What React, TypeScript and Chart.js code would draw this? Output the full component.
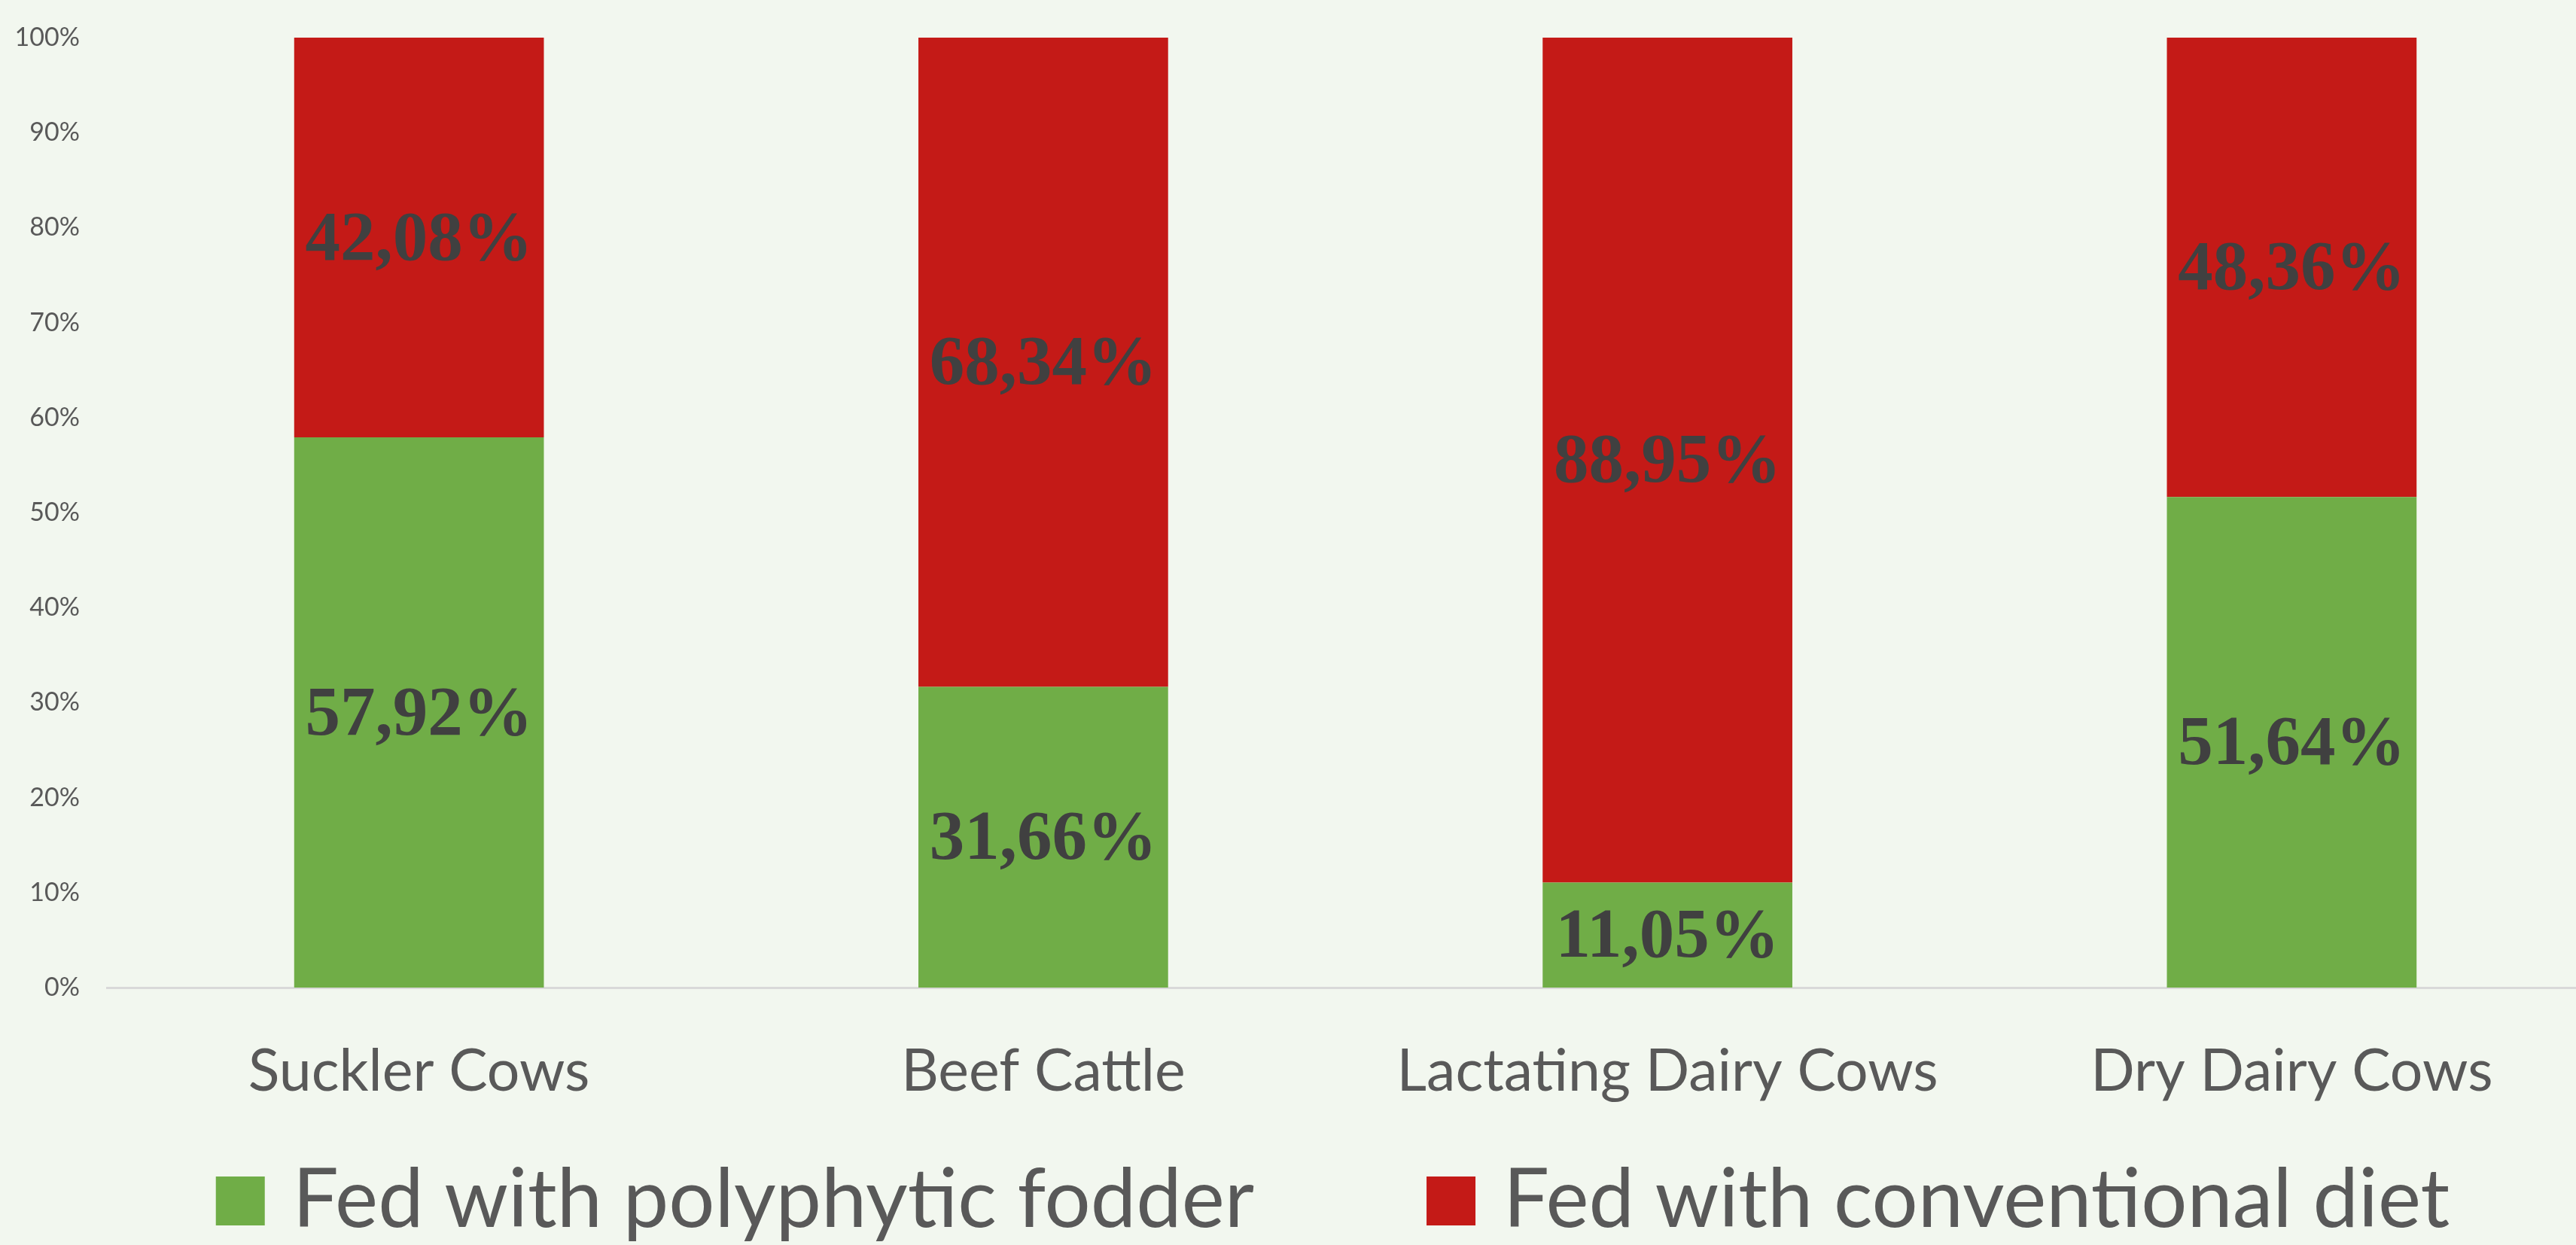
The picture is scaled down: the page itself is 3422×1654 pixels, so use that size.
import React, { useEffect, useRef } from "react";
import { Chart, registerables } from "chart.js";

Chart.register(...registerables);

const categories = ["Suckler Cows", "Beef Cattle", "Lactating Dairy Cows", "Dry Dairy Cows"];
const polyphyticValues = [57.92, 31.66, 11.05, 51.64];
const conventionalValues = [42.08, 68.34, 88.95, 48.36];
const seriesNames = ["Fed with polyphytic fodder", "Fed with conventional diet"];
const seriesColors = ["#70ad47", "#c41a17"];
const yTickStep = 10;
const yMax = 100;

const BG = "#f2f7ef";
const CANVAS_W = 3460;
const CANVAS_H = 1654;

const fmt = (v: number) => v.toFixed(2).replace(".", ",") + "%";

const valueLabelPlugin = {
  id: "valueLabels",
  afterDatasetsDraw(chart: any) {
    const ctx = chart.ctx;
    ctx.save();
    ctx.font = 'bold 93px "Liberation Serif"';
    ctx.fillStyle = "#404040";
    ctx.textAlign = "center";
    ctx.textBaseline = "middle";
    chart.data.datasets.forEach((ds: any, i: number) => {
      const meta = chart.getDatasetMeta(i);
      meta.data.forEach((bar: any, j: number) => {
        const p = bar.getProps(["x", "y", "base"], true);
        ctx.fillText(fmt(ds.data[j]), p.x, (p.y + p.base) / 2 + 5);
      });
    });
    ctx.restore();
  },
};

const legendPlugin = {
  id: "customLegend",
  afterDraw(chart: any) {
    const ctx = chart.ctx;
    const area = chart.chartArea;
    ctx.save();
    ctx.font = '108px Lato';
    const box = 65;
    const gapText = 37;
    const gapItem = 229;
    const widths = chart.data.datasets.map((d: any) => ctx.measureText(d.label).width);
    const total = widths.reduce((a: number, w: number) => a + box + gapText + w, 0) + gapItem * (widths.length - 1);
    const cx = (area.left + area.right) / 2 - 30;
    let x = cx - total / 2;
    const boxTop = area.bottom + 251;
    const baseline = area.bottom + 318;
    chart.data.datasets.forEach((d: any, i: number) => {
      ctx.fillStyle = d.backgroundColor;
      ctx.fillRect(x, boxTop, box, box);
      x += box + gapText;
      ctx.fillStyle = "#595959";
      ctx.textAlign = "left";
      ctx.textBaseline = "alphabetic";
      ctx.fillText(d.label, x, baseline);
      x += widths[i] + gapItem;
    });
    ctx.restore();
  },
};

export default function App() {
  const ref = useRef<HTMLCanvasElement | null>(null);

  useEffect(() => {
    document.body.style.margin = "0";
    document.body.style.background = BG;
    const canvas = ref.current!;
    const chart = new Chart(canvas, {
      type: "bar",
      data: {
        labels: categories,
        datasets: [
          { label: seriesNames[0], data: polyphyticValues, backgroundColor: seriesColors[0], borderWidth: 0 },
          { label: seriesNames[1], data: conventionalValues, backgroundColor: seriesColors[1], borderWidth: 0 },
        ],
      },
      options: {
        animation: false,
        responsive: false,
        devicePixelRatio: 1,
        layout: { padding: { top: 50, right: 1, bottom: 142, left: 0 } },
        datasets: { bar: { barPercentage: 0.4, categoryPercentage: 1 } },
        plugins: {
          legend: { display: false },
          tooltip: { enabled: false },
          title: { display: false },
        },
        scales: {
          x: {
            stacked: true,
            grid: { display: false, drawTicks: false },
            border: { display: true, color: "#d9d9d9", width: 3 },
            ticks: {
              color: "#595959",
              font: { family: "Lato", size: 77 },
              padding: 66,
              maxRotation: 0,
              autoSkip: false,
            },
            afterFit: (s: any) => {
              s.height = 200;
            },
          },
          y: {
            stacked: true,
            min: 0,
            max: yMax,
            grid: { display: false, drawTicks: false },
            border: { display: false },
            ticks: {
              stepSize: yTickStep,
              color: "#595959",
              font: { family: "Lato", size: 34 },
              padding: 36,
              callback: (v: any) => v + "%",
            },
            afterFit: (s: any) => {
              s.width = 142;
              s.paddingTop = 0;
              s.paddingBottom = 0;
            },
          },
        },
      },
      plugins: [valueLabelPlugin, legendPlugin],
    });
    return () => chart.destroy();
  }, []);

  return (
    <div
      style={{
        position: "absolute",
        left: 0,
        top: 0,
        width: 3422,
        height: 1654,
        overflow: "hidden",
        background: BG,
      }}
    >
      <canvas ref={ref} width={CANVAS_W} height={CANVAS_H} style={{ width: CANVAS_W, height: CANVAS_H, display: "block" }} />
    </div>
  );
}
